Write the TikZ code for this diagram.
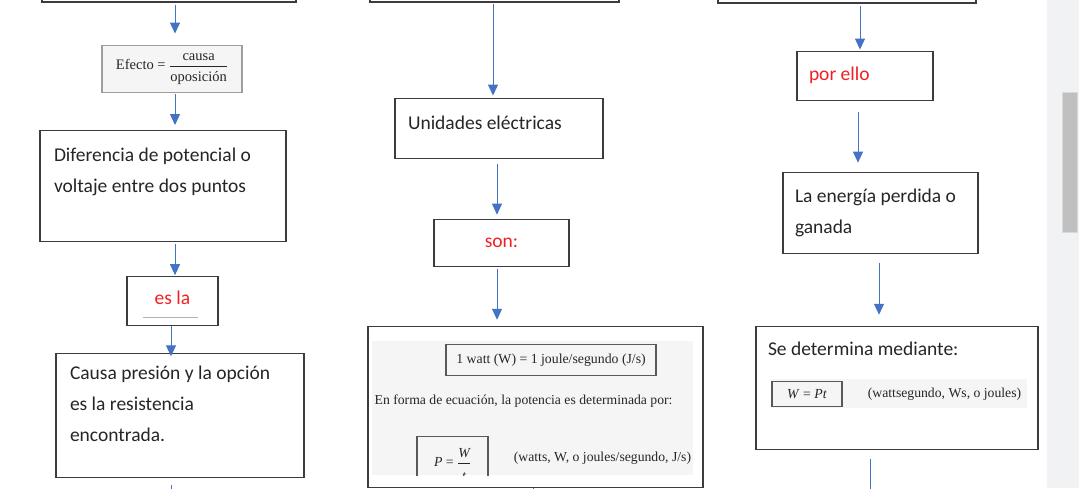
\documentclass[tikz,border=0pt]{standalone}
\usepackage{amsmath}
\usepackage{fontspec}
\setmainfont{Carlito}
\newfontfamily\libro{Liberation Serif}
\usetikzlibrary{arrows.meta, positioning}
\definecolor{azul}{RGB}{68,114,196}
\definecolor{rojo}{RGB}{240,32,36}
\definecolor{borde}{RGB}{60,60,60}
\definecolor{fondoLibro}{RGB}{245,245,245}
\definecolor{barra}{RGB}{241,242,243}
\definecolor{deslizador}{RGB}{192,192,192}

\begin{document}
\begin{tikzpicture}
	[
	x=1pt, y=-1pt,
        caja/.style={
            rectangle,
            draw=borde,
            line width=1.1pt,
            fill=white,
            text=black!85,
            font=\fontsize{19.5}{31}\selectfont,
            inner ysep=2pt
        },
        nota/.style={
            caja,
            text=rojo
        },
        recorte/.style={
            rectangle,
            draw=gray!75,
            line width=1.5pt,
            fill=fondoLibro,
            text=black!85,
            font=\libro\fontsize{14.5}{17}\selectfont,
            inner sep=0pt
        },
        recuadro/.style={
            rectangle,
            draw=black!65,
            line width=1.2pt,
            inner sep=0pt,
            text=black!85,
            font=\libro\fontsize{13.8}{16}\selectfont
        },
        textoLibro/.style={
            inner sep=0pt,
            text=black!85,
            font=\libro\fontsize{13.7}{16}\selectfont
        },
        fondo/.style={
            rectangle,
            fill=fondoLibro,
            inner sep=0pt
        },
        flecha/.style={
            -{Triangle[length=11pt,width=10pt]},
            draw=azul,
            line width=1pt
        }
    ]
    \useasboundingbox (0,0) rectangle (1079,488);
    \clip (0,0) rectangle (1079,488);
    \fill[white] (0,0) rectangle (1079,488);
    \fill[barra] (1047,0) rectangle (1079,488);
    \filldraw[fill=deslizador, draw=gray!30] (1062,92) rectangle (1077,232);

    \node(superiorIzq) [caja, minimum width=254pt, minimum height=40pt] at (169,-18) {};
    \node(efecto) [recorte, minimum width=140pt, minimum height=47pt, below=42pt of superiorIzq, xshift=3pt] {Efecto = $\dfrac{\mbox{causa}}{\rule{0pt}{13pt}\mbox{oposición}}$};
    \node(diferencia) [caja, text width=218pt, inner xsep=14pt, align=flush left, minimum height=111pt, below=37pt of efecto, xshift=-9pt] {Diferencia de potencial o\\voltaje entre dos puntos\\~};
    \node(esLa) [nota, minimum width=91pt, minimum height=49pt, text depth=6pt, below=34pt of diferencia, xshift=9.5pt] {es la};
    \node(causa) [caja, text width=220pt, inner xsep=14pt, align=flush left, minimum height=124pt, below=27pt of esLa, xshift=7.5pt] {Causa presión y la opción\\es la resistencia\\encontrada.\\[-6pt]~};

    \node(superiorCentro) [caja, minimum width=249pt, minimum height=40pt] at (494.5,-18) {};
    \node(unidades) [caja, text width=182pt, inner xsep=13pt, align=flush left, minimum height=60pt, text depth=10pt, below=95pt of superiorCentro, xshift=4.5pt] {Unidades eléctricas};
    \node(son) [nota, minimum width=135pt, minimum height=47pt, below=60pt of unidades, xshift=2.5pt] {son:};
    \node(potencia) [caja, minimum width=335pt, minimum height=161pt, below=59pt of son, xshift=34pt] {};

    \node(superiorDer) [caja, minimum width=258pt, minimum height=40pt] at (847,-17) {};
    \node(porEllo) [nota, text width=112pt, inner xsep=12pt, align=flush left, minimum height=49pt, below=47pt of superiorDer, xshift=18pt] {por ello};
    \node(energia) [caja, text width=171pt, inner xsep=12pt, align=flush left, minimum height=81pt, below=71pt of porEllo, xshift=15.5pt] {La energía perdida o\\ganada};
    \node(determina) [caja, text width=258pt, inner xsep=12pt, align=flush left, minimum height=123pt, below=72pt of energia, xshift=16.5pt] {Se determina mediante:\\[48pt]~};

    \node(bandaPotencia) [fondo, minimum width=321pt, minimum height=134pt, below right=15pt and 4pt of potencia.north west] {};
    \node(cajaWatt) [recuadro, minimum width=210pt, minimum height=31pt, below right=18pt and 78pt of potencia.north west] {1 watt (W) = 1 joule/segundo (J/s)};
    \node(ecuacion) [textoLibro, below right=69pt and 7pt of potencia.north west] {En forma de ecuación, la potencia es determinada por:};
    \begin{scope}
        \clip (bandaPotencia.south west) rectangle (bandaPotencia.north east);
        \node(cajaP) [recuadro, minimum width=71pt, minimum height=56pt, below right=110pt and 49pt of potencia.north west] {\textit{P} = $\dfrac{\textit{W}\rule[-4pt]{0pt}{1pt}}{\rule{0pt}{15pt}\textit{t}}$};
    \end{scope}
    \node(textoPotencia) [textoLibro, right=25pt of cajaP, yshift=6pt] {(watts, W, o joules/segundo, J/s)};

    \node(bandaTrabajo) [fondo, minimum width=256pt, minimum height=29pt, below right=53pt and 15pt of determina.north west] {};
    \node(cajaWPt) [recuadro, minimum width=70pt, minimum height=25pt, below right=55pt and 16pt of determina.north west] {\textit{W} = \textit{Pt}};
    \node(textoTrabajo) [textoLibro, right=25pt of cajaWPt] {(wattsegundo, Ws, o joules)};

    \coordinate (finIzq) at (171,500);
    \coordinate (finCentro) at (533,500);
    \coordinate (finDer) at (870,500);

    \draw[gray!60, line width=0.8pt] ([xshift=-29.5pt, yshift=9pt]esLa.south) -- ([xshift=25.5pt, yshift=9pt]esLa.south);

    \draw[flecha, shorten <=2pt, shorten >=11pt] ([xshift=6pt]superiorIzq.south) -- ([xshift=3pt]efecto.north);
    \draw[flecha, shorten <=1pt, shorten >=5pt] ([xshift=3pt]efecto.south) -- ([xshift=12pt]diferencia.north);
    \draw[flecha, shorten <=2pt, shorten >=1pt] ([xshift=12pt]diferencia.south) -- ([xshift=2.5pt]esLa.north);
    \draw[flecha, shorten >=-3pt] ([xshift=-1.5pt]esLa.south) -- ([xshift=-9pt]causa.north);
    \draw[flecha, shorten <=7pt] ([xshift=-9pt]causa.south) -- (finIzq);

    \draw[flecha, shorten <=1pt, shorten >=2pt] ([xshift=-1.5pt]superiorCentro.south) -- ([xshift=-6pt]unidades.north);
    \draw[flecha, shorten <=5pt, shorten >=4pt] ([xshift=-2pt]unidades.south) -- ([xshift=-4.5pt]son.north);
    \draw[flecha, shorten <=2pt, shorten >=6pt] ([xshift=-4.5pt]son.south) -- ([xshift=-38.5pt]potencia.north);
    \draw[flecha] ([xshift=-2.5pt]potencia.south) -- (finCentro);

    \draw[flecha, shorten <=2pt, shorten >=1pt] ([xshift=13pt]superiorDer.south) -- ([xshift=-5pt]porEllo.north);
    \draw[flecha, shorten <=11pt, shorten >=9pt] ([xshift=-7pt]porEllo.south) -- ([xshift=-22.5pt]energia.north);
    \draw[flecha, shorten <=9pt, shorten >=11pt] ([xshift=-1.5pt]energia.south) -- ([xshift=-18pt]determina.north);
    \draw[flecha, shorten <=9pt] ([xshift=-27pt]determina.south) -- (finDer);
\end{tikzpicture}
\end{document}
